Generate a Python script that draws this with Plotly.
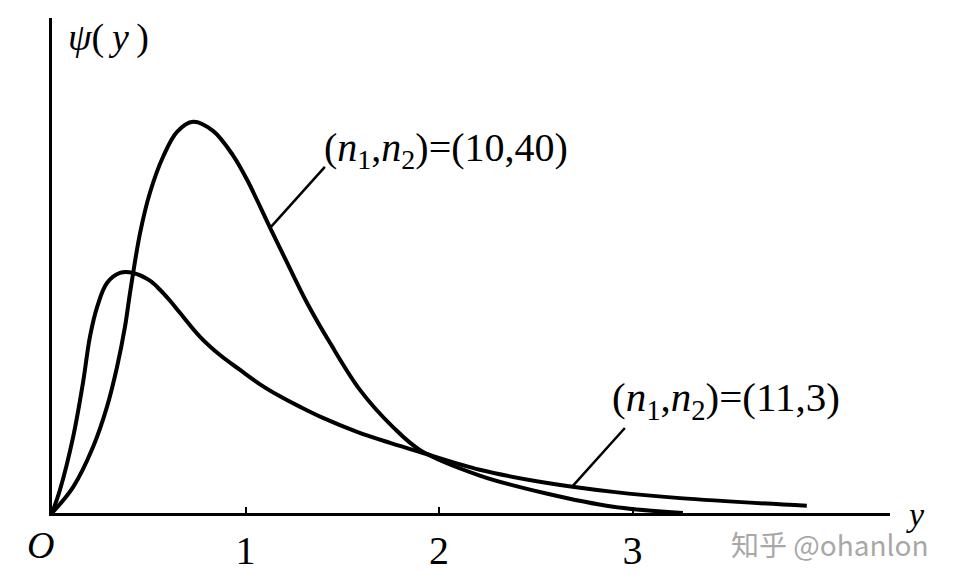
import plotly.graph_objects as go

# F-distribution density curves
y_10_40 = [0, 0.109, 0.212, 0.284, 0.336, 0.377, 0.403, 0.455, 0.506, 0.574, 0.646, 0.729, 0.832,
           0.935, 1.008, 1.127, 1.214, 1.318, 1.437, 1.592, 1.762, 1.902, 2.21, 2.56, 2.90, 3.26]
psi_10_40 = [0, 0.054, 0.1375, 0.221, 0.304, 0.3875, 0.458, 0.583, 0.667, 0.742, 0.794, 0.815, 0.796,
             0.745, 0.694, 0.594, 0.522, 0.4375, 0.354, 0.256, 0.179, 0.131, 0.078, 0.040, 0.013, 0]

y_11_3 = [0, 0.041, 0.109, 0.160, 0.196, 0.233, 0.284, 0.351, 0.419, 0.506, 0.558, 0.61, 0.661, 0.765,
          0.868, 0.972, 1.075, 1.178, 1.282, 1.40, 1.576, 1.747, 1.917, 2.21, 2.56, 2.90, 3.245, 3.90]
psi_11_3 = [0, 0.048, 0.158, 0.271, 0.367, 0.429, 0.479, 0.5, 0.5, 0.484, 0.465, 0.442, 0.417, 0.367,
            0.329, 0.298, 0.268, 0.243, 0.221, 0.198, 0.169, 0.146, 0.125, 0.090, 0.0625, 0.044, 0.031, 0.015]

# leader lines from labels to curves
lead1_x = [1.127, 1.41]
lead1_y = [0.594, 0.721]
lead2_x = [2.69, 2.96]
lead2_y = [0.056, 0.177]

x_ticks = [1, 2, 3]

SERIF = "Liberation Serif"

fig = go.Figure()

for xs, ys in [(y_10_40, psi_10_40), (y_11_3, psi_11_3)]:
    fig.add_trace(go.Scatter(
        x=xs, y=ys, mode="lines",
        line=dict(color="black", width=4, shape="spline", smoothing=1.0),
        hoverinfo="skip",
    ))

for xs, ys in [(lead1_x, lead1_y), (lead2_x, lead2_y)]:
    fig.add_trace(go.Scatter(
        x=xs, y=ys, mode="lines",
        line=dict(color="black", width=2.5),
        hoverinfo="skip",
    ))

fig.add_annotation(x=1.395, y=0.756, xanchor="left", yanchor="middle",
                   text="(<i>n</i><sub>1</sub>,<i>n</i><sub>2</sub>)=(10,40)",
                   font=dict(family=SERIF, size=40, color="black"), showarrow=False)
fig.add_annotation(x=2.884, y=0.235, xanchor="left", yanchor="middle",
                   text="(<i>n</i><sub>1</sub>,<i>n</i><sub>2</sub>)=(11,3)",
                   font=dict(family=SERIF, size=41, color="black"), showarrow=False)
fig.add_annotation(x=0.29, y=0.99, text="<i>ψ</i>(\u2009<i>y</i>\u2009)",
                   font=dict(family=SERIF, size=38, color="black"), showarrow=False)

# labels outside the plot area, placed in paper coordinates
fig.add_annotation(xref="paper", yref="paper", x=-0.0143, y=-0.0646, text="<i>O</i>",
                   xanchor="center", yanchor="middle",
                   font=dict(family=SERIF, size=38, color="black"), showarrow=False)
fig.add_annotation(xref="paper", yref="paper", x=1.030, y=-0.004, text="<i>y</i>",
                   xanchor="center", yanchor="middle",
                   font=dict(family=SERIF, size=34, color="black"), showarrow=False)
fig.add_annotation(xref="paper", yref="paper", x=0.928, y=-0.0626, text="知乎 @ohanlon",
                   xanchor="center", yanchor="middle",
                   font=dict(family="Noto Sans CJK SC", size=28, color="#a8a8a8"), showarrow=False)

# the page body has an 8px margin, so the figure is offset by (8, 8)
fig.update_layout(
    width=957, height=582,
    margin=dict(l=44, r=75, t=10, b=77),
    paper_bgcolor="white", plot_bgcolor="white",
    showlegend=False,
)
fig.update_xaxes(
    range=[0, 4.33], showgrid=False, zeroline=False,
    showline=True, linecolor="black", linewidth=3,
    tickvals=x_ticks, ticktext=[str(t) for t in x_ticks],
    ticks="inside", ticklen=6, tickwidth=2, tickcolor="black",
    tickfont=dict(family=SERIF, size=40, color="black"),
)
fig.update_yaxes(
    range=[0, 1.031], showgrid=False, zeroline=False,
    showline=True, linecolor="black", linewidth=3,
    showticklabels=False, ticks="",
)

fig.write_html("out.html")
